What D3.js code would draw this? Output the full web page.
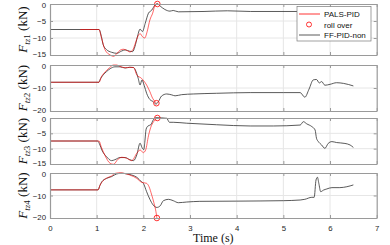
<!DOCTYPE html>
<html>
<head>
<meta charset="utf-8">
<script src="https://cdn.jsdelivr.net/npm/d3@7"></script>
<style>
  body { margin: 0; background: #fff; }
  svg { display: block; }
  .tick text { font-family: 'Liberation Sans', Arial, sans-serif; font-size: 7.8px; fill: #262626; }
</style>
</head>
<body>
<svg id="chart" width="390" height="245"></svg>
<script>
// [time (s), force (kN)]
const ffPid1 = [[0,-7.5],[1.05,-7.5],[1.1,-9.5],[1.14,-12],[1.21,-13.4],[1.32,-14.2],[1.43,-14.5],[1.54,-13.8],[1.61,-13.5],[1.71,-13.9],[1.77,-14],[1.82,-12.5],[1.87,-9.8],[1.93,-7.4],[1.98,-8.1],[2.04,-5.7],[2.11,-2.7],[2.18,-1.8],[2.25,-0.3],[2.3,0.1],[2.36,-0.6],[2.46,-1.6],[2.57,-2.1],[2.64,-1.9],[2.75,-2.3],[3.3,-2.2],[3.8,-2.0],[4.3,-2.2],[5.5,-2.2],[6.5,-2.2]];
const pals1 = [[0.65,-7.5],[1.05,-7.5],[1.1,-9.8],[1.18,-13.5],[1.29,-15],[1.36,-15.4],[1.43,-14.6],[1.5,-13.6],[1.57,-13.3],[1.64,-13.6],[1.71,-14.1],[1.77,-13.6],[1.83,-11.5],[1.88,-9.6],[1.93,-8.7],[1.98,-9.6],[2.03,-10],[2.08,-8.2],[2.14,-4.7],[2.2,-2.7],[2.25,-0.4],[2.3,0]];
const roll1 = [[2.3,0]];

const ffPid2 = [[0,-7.5],[1.05,-7.5],[1.07,-6.5],[1.14,-4.3],[1.21,-2.9],[1.29,-1.6],[1.39,-0.8],[1.5,-0.8],[1.61,-1.3],[1.71,-1],[1.79,-1.1],[1.83,-2.2],[1.89,-5.8],[1.93,-8.7],[1.97,-6.5],[2.02,-9],[2.07,-12.3],[2.14,-15],[2.21,-15.9],[2.27,-17],[2.32,-16],[2.39,-13.5],[2.5,-12.6],[2.61,-13],[2.68,-13.4],[2.82,-12.9],[3.07,-12.6],[3.57,-12.3],[4.29,-12],[5.0,-12],[5.36,-12],[5.46,-14],[5.55,-10.5],[5.64,-6.5],[5.71,-6.3],[5.77,-7.8],[5.82,-7.2],[5.89,-8.8],[6.0,-8.4],[6.14,-7.7],[6.29,-8],[6.5,-9.1]];
const pals2 = [[0,-7.5],[1.05,-7.5],[1.1,-5.2],[1.18,-3],[1.27,-1.3],[1.36,0],[1.43,0],[1.5,-0.6],[1.61,-1.2],[1.71,-1],[1.79,-1.1],[1.86,-4.3],[1.96,-5.8],[2.07,-8.7],[2.14,-11.6],[2.2,-14.5],[2.25,-15.9],[2.28,-16.6]];
const roll2 = [[2.28,-16.6]];

const ffPid3 = [[0,-7.5],[1.02,-7.5],[1.07,-8.8],[1.11,-10.4],[1.21,-12.6],[1.32,-13.9],[1.39,-13.6],[1.5,-12.9],[1.61,-12.9],[1.71,-13.6],[1.79,-13.9],[1.86,-12],[1.93,-8.2],[1.97,-9.6],[2.01,-10.3],[2.03,-8],[2.06,-3.6],[2.1,-2.6],[2.16,-2.2],[2.21,-0.7],[2.27,0.1],[2.5,-0.1],[2.56,-1.4],[2.64,-1.4],[2.93,-1.7],[3.57,-2.2],[4.29,-2.6],[4.79,-2.6],[5.36,-2.3],[5.43,-1.2],[5.5,-1.9],[5.61,-2.8],[5.68,-3.9],[5.71,-6.6],[5.75,-7.7],[5.82,-8.8],[5.89,-9.9],[5.96,-8.3],[6.04,-7.7],[6.14,-8],[6.32,-8.3],[6.43,-8.8],[6.5,-9.6]];
const pals3 = [[0,-7.5],[1.05,-7.5],[1.1,-9.5],[1.18,-12.3],[1.29,-14.8],[1.36,-15.1],[1.46,-13.4],[1.54,-12.8],[1.64,-13.1],[1.75,-13.9],[1.86,-11.5],[1.93,-10.4],[2.0,-11.3],[2.05,-10.4],[2.11,-5.8],[2.16,-3],[2.22,-1.2],[2.3,0]];
const roll3 = [[2.3,0]];

const ffPid4 = [[0,-7.5],[1.03,-7.5],[1.07,-5.5],[1.11,-3.9],[1.21,-2.4],[1.32,-1.6],[1.43,-0.4],[1.54,-0.1],[1.64,-0.4],[1.75,-0.9],[1.86,-1.9],[1.96,-3.9],[2.0,-4.6],[2.07,-8.3],[2.14,-11.7],[2.21,-14.2],[2.29,-15.3],[2.36,-14.6],[2.43,-12.3],[2.54,-11.7],[2.64,-12.3],[2.75,-13.2],[2.93,-12.9],[3.21,-12.6],[4,-12.5],[5,-12.3],[5.36,-12],[5.46,-11.7],[5.61,-10.8],[5.66,-10.8],[5.7,-3.1],[5.73,-1.9],[5.76,-4.6],[5.8,-8.3],[5.86,-7.6],[5.93,-7.1],[6.04,-6.5],[6.21,-6.5],[6.36,-6.1],[6.5,-5.3]];
const pals4 = [[0,-7.5],[1.03,-7.5],[1.07,-5.5],[1.14,-3.4],[1.23,-2.1],[1.32,-1.3],[1.39,-0.2],[1.5,0.1],[1.6,-0.2],[1.71,-0.9],[1.86,-2.4],[1.96,-4.1],[2.07,-4.6],[2.12,-6],[2.18,-9.8],[2.23,-13.5],[2.27,-17.2],[2.29,-20]];
const roll4 = [[2.29,-20]];

const xTicks = [0, 1, 2, 3, 4, 5, 6, 7];
const yTicks15 = [0, -5, -10, -15];
const yTicks20 = [0, -10, -20];
const subLabels = ['tz1', 'tz2', 'tz3', 'tz4'];
const legendLabels = ['PALS-PID', 'roll over', 'FF-PID-non'];

const RED = '#ff0000';
const DARK = '#303030';

const panels = [
  { ff: ffPid1, pals: pals1, roll: roll1, yMin: -15, ticks: yTicks15, top: 4, bottom: 55 },
  { ff: ffPid2, pals: pals2, roll: roll2, yMin: -20, ticks: yTicks20, top: 65, bottom: 111 },
  { ff: ffPid3, pals: pals3, roll: roll3, yMin: -15, ticks: yTicks15, top: 118, bottom: 164 },
  { ff: ffPid4, pals: pals4, roll: roll4, yMin: -20, ticks: yTicks20, top: 173, bottom: 218 },
];

const svg = d3.select('#chart');
const x = d3.scaleLinear().domain([0, 7]).range([50, 376.7]);

panels.forEach((p, i) => {
  const y = d3.scaleLinear().domain([p.yMin, 0]).range([p.bottom, p.top]);
  const g = svg.append('g');

  // grid
  g.append('g').selectAll('line').data(xTicks.slice(1, -1)).join('line')
    .attr('x1', d => x(d)).attr('x2', d => x(d))
    .attr('y1', p.top).attr('y2', p.bottom)
    .attr('stroke', '#e6e6e6').attr('stroke-width', 1);
  g.append('g').selectAll('line').data(p.ticks.slice(1, -1)).join('line')
    .attr('x1', x(0)).attr('x2', x(7))
    .attr('y1', d => y(d)).attr('y2', d => y(d))
    .attr('stroke', '#e6e6e6').attr('stroke-width', 1);

  const line = d3.line().x(d => x(d[0])).y(d => y(d[1])).curve(d3.curveMonotoneX);

  g.append('path').datum(p.ff).attr('d', line)
    .attr('fill', 'none').attr('stroke', DARK).attr('stroke-width', 0.8);
  g.append('path').datum(p.pals).attr('d', line)
    .attr('fill', 'none').attr('stroke', RED).attr('stroke-width', 0.8).attr('opacity', 0.75);
  g.selectAll('.roll').data(p.roll).join('circle')
    .attr('cx', d => x(d[0])).attr('cy', d => y(d[1])).attr('r', 2.8)
    .attr('fill', 'none').attr('stroke', RED).attr('stroke-width', 0.8);

  // axes (box with inward ticks)
  const tickLen = 3;
  const left = g.append('g').attr('transform', `translate(${x(0)},0)`)
    .call(d3.axisLeft(y).tickValues(p.ticks).tickSizeInner(-tickLen).tickSizeOuter(0).tickPadding(4));
  const right = g.append('g').attr('transform', `translate(${x(7)},0)`)
    .call(d3.axisRight(y).tickValues(p.ticks).tickSizeInner(-tickLen).tickSizeOuter(0).tickFormat(''));
  const bottom = g.append('g').attr('transform', `translate(0,${p.bottom})`)
    .call(d3.axisBottom(x).tickValues(xTicks).tickSizeInner(-tickLen).tickSizeOuter(0).tickPadding(7)
      .tickFormat(i === 3 ? d3.format('d') : ''));
  const topAx = g.append('g').attr('transform', `translate(0,${p.top})`)
    .call(d3.axisTop(x).tickValues(xTicks).tickSizeInner(-tickLen).tickSizeOuter(0).tickFormat(''));
  [left, right, bottom, topAx].forEach(a => {
    a.select('.domain').attr('stroke', '#9a9a9a').attr('stroke-width', 1.2);
    a.selectAll('.tick line').attr('stroke', '#9a9a9a');
  });
  // nudge the end labels inward so neighbouring panels' labels don't collide
  left.selectAll('.tick text')
    .attr('dy', d => d === 0 ? '0.45em' : (d === p.yMin ? '0.2em' : '0.32em'));

  // y label: F_{tzN} (kN), rotated
  const cy = (p.top + p.bottom) / 2;
  const lbl = svg.append('text')
    .attr('transform', `translate(27,${cy}) rotate(-90)`)
    .attr('text-anchor', 'middle')
    .style('font-family', "'Liberation Serif', 'Times New Roman', serif")
    .style('font-size', '13px').attr('fill', '#111');
  lbl.append('tspan').style('font-style', 'italic').text('F');
  lbl.append('tspan').attr('dy', 2.5).style('font-size', '9px').style('font-style', 'italic')
    .text(subLabels[i].slice(0, 2));
  lbl.append('tspan').style('font-size', '9px').text(subLabels[i].slice(2));
  lbl.append('tspan').attr('dy', -2.5).text('\u00a0(kN)');
});

// x label
svg.append('text')
  .attr('x', (x(0) + x(7)) / 2).attr('y', 242)
  .attr('text-anchor', 'middle')
  .style('font-family', "'Liberation Serif', 'Times New Roman', serif")
  .style('font-size', '12px').attr('fill', '#111')
  .text('Time (s)');

// legend
const lg = svg.append('g').attr('transform', 'translate(297,6.5)');
lg.append('rect').attr('width', 74).attr('height', 34.5)
  .attr('fill', '#fff').attr('stroke', '#7a7a7a').attr('stroke-width', 0.7);
const rows = lg.selectAll('.row').data(legendLabels).join('g')
  .attr('transform', (d, k) => `translate(0,${7.5 + k * 10.5})`);
rows.each(function (d, k) {
  const r = d3.select(this);
  if (k === 1) {
    r.append('circle').attr('cx', 12).attr('cy', 0).attr('r', 2.5)
      .attr('fill', 'none').attr('stroke', RED).attr('stroke-width', 0.8);
  } else {
    r.append('line').attr('x1', 2).attr('x2', 23).attr('y1', 0).attr('y2', 0)
      .attr('stroke', k === 0 ? RED : DARK).attr('stroke-width', 0.8);
  }
  r.append('text').attr('x', 27).attr('y', 3)
    .style('font-family', "'Liberation Sans', Arial, sans-serif")
    .style('font-size', '8px').attr('fill', '#111').text(d);
});
</script>
</body>
</html>
